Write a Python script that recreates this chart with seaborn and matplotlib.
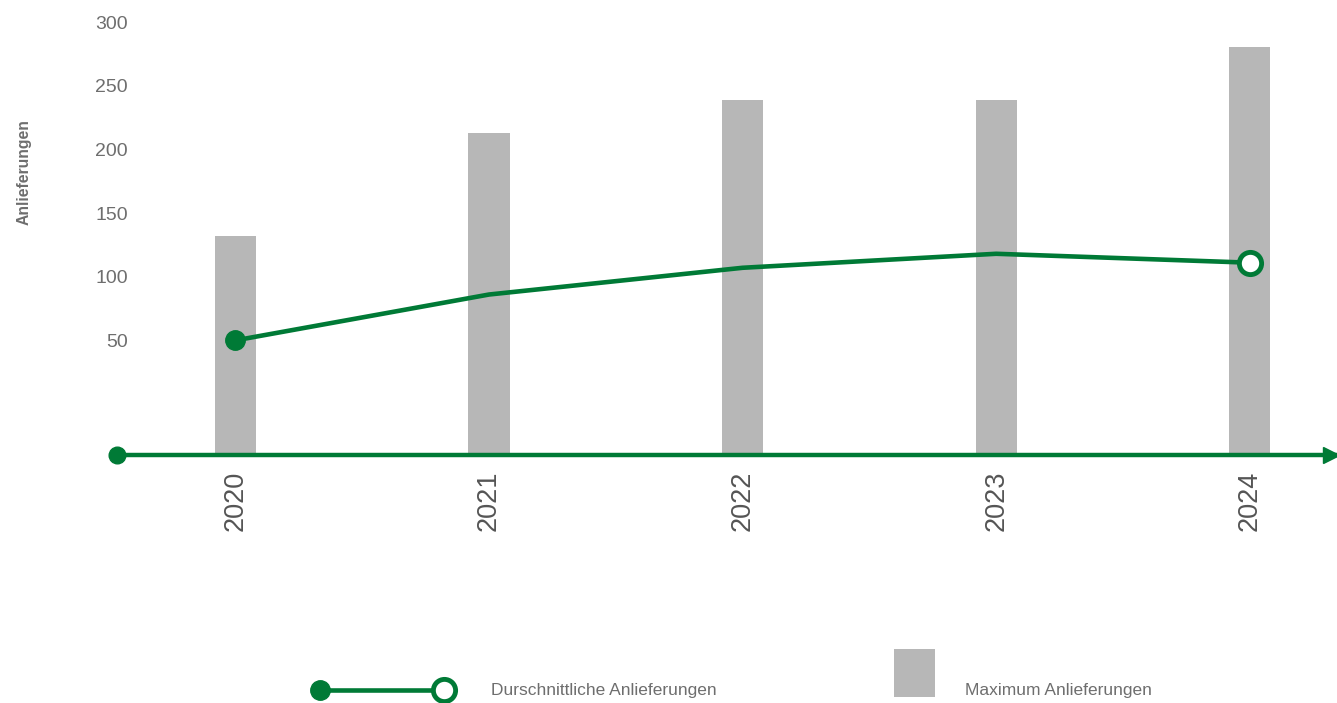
import numpy as np
import pandas as pd
import matplotlib
matplotlib.use("Agg")
import matplotlib.pyplot as plt
from matplotlib.lines import Line2D
from matplotlib.patches import Rectangle
import seaborn as sns

years = ["2020", "2021", "2022", "2023", "2024"]
avg_deliveries = [50, 86, 107, 118, 111]
max_deliveries = [132, 213, 239, 239, 280]
y_ticks = [50, 100, 150, 200, 250, 300]
y_label = "Anlieferungen"
legend_labels = ["Durschnittliche Anlieferungen", "Maximum Anlieferungen"]

GREEN = "#007a36"
GREY_BAR = "#b7b7b7"
TEXT = "#6e6e6e"
FLOOR = -40

sns.set_theme(style="white")
plt.rcParams["font.family"] = ["Liberation Sans", "DejaVu Sans"]

df = pd.DataFrame({"year": years, "pos": np.arange(len(years)),
                   "avg": avg_deliveries, "max": max_deliveries})

fig = plt.figure(figsize=(13.37, 7.03), dpi=100)
ax = fig.add_axes([0.0875, 0.3528, 0.9125, 0.6159])

ax.bar(df["pos"], df["max"] - FLOOR, bottom=FLOOR, width=0.162,
       color=GREY_BAR, zorder=1, linewidth=0)

sns.lineplot(data=df, x="pos", y="avg", ax=ax, color=GREEN, linewidth=3.3,
             zorder=3, legend=False)
ax.plot(df["pos"].iloc[0], df["avg"].iloc[0], "o", color=GREEN, markersize=14,
        zorder=4)
ax.plot(df["pos"].iloc[-1], df["avg"].iloc[-1], "o", markerfacecolor="white",
        markeredgecolor=GREEN, markeredgewidth=3.5, markersize=16, zorder=4)

ax.set_xlim(-0.467, 4.344)
ax.set_ylim(FLOOR, 300)

for s in ax.spines.values():
    s.set_visible(False)

# x axis line with dot and arrow
ax.plot([0, 1], [0, 0], transform=ax.transAxes, color=GREEN, linewidth=3.2,
        clip_on=False, zorder=5, solid_capstyle="butt")
ax.plot([0], [0], "o", transform=ax.transAxes, color=GREEN, markersize=12,
        clip_on=False, zorder=6)
ax.plot([0.995], [0], ">", transform=ax.transAxes, color=GREEN, markersize=12,
        clip_on=False, zorder=6)

ax.set_xticks(df["pos"])
ax.set_xticklabels(years, rotation=90, fontsize=19.5, color="#555555",
                   fontweight="light")
ax.tick_params(axis="x", length=0, pad=11)
ax.set_yticks(y_ticks)
ax.set_yticklabels([str(t) for t in y_ticks], fontsize=14, color=TEXT)
ax.tick_params(axis="y", length=0, pad=-8)
ax.set_xlabel("")
ax.set_ylabel("")
ax.grid(False)

fig.text(24 / 1337, 1 - 172 / 703, y_label, rotation=90, fontsize=11.3,
         fontweight="bold", color=TEXT, ha="center", va="center")

# legend
ly = 1 - 690 / 703
fig.add_artist(Line2D([320 / 1337, 444 / 1337], [ly, ly], color=GREEN,
                      linewidth=3.3, transform=fig.transFigure))
fig.add_artist(Line2D([320 / 1337], [ly], marker="o", color=GREEN,
                      markersize=14, transform=fig.transFigure))
fig.add_artist(Line2D([444 / 1337], [ly], marker="o", markerfacecolor="white",
                      markeredgecolor=GREEN, markeredgewidth=3.5,
                      markersize=16, transform=fig.transFigure))
fig.text(491 / 1337, 1 - 691 / 703, legend_labels[0], fontsize=12.5,
         color=TEXT, ha="left", va="center")
fig.add_artist(Rectangle((894 / 1337, 1 - 697 / 703), 41 / 1337, 48 / 703,
                         color=GREY_BAR, transform=fig.transFigure, linewidth=0))
fig.text(965 / 1337, 1 - 691 / 703, legend_labels[1], fontsize=12.5,
         color=TEXT, ha="left", va="center")

fig.savefig("out.png", dpi=100)
